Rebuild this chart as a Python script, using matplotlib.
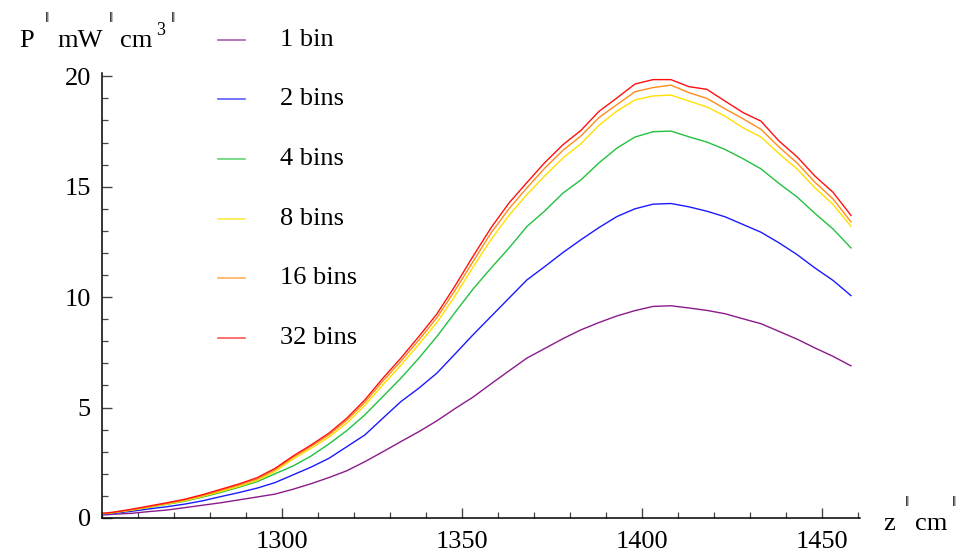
import matplotlib
matplotlib.use("Agg")
import matplotlib.pyplot as plt
from matplotlib.lines import Line2D
from matplotlib.ticker import MultipleLocator

# position along the device (cm)
z = [1250, 1253, 1258, 1263, 1268, 1273, 1278, 1283, 1288, 1293,
     1298, 1303, 1308, 1313, 1318, 1323, 1328, 1333, 1338, 1343,
     1348, 1353, 1358, 1363, 1368, 1373, 1378, 1383, 1388, 1393,
     1398, 1403, 1408, 1413, 1418, 1423, 1428, 1433, 1438, 1443,
     1448, 1453, 1458]

# power density (mW/cm^3) for each binning
p_1bin = [0.13, 0.17, 0.21, 0.29, 0.36, 0.47, 0.58, 0.69, 0.82, 0.95,
          1.08, 1.30, 1.55, 1.83, 2.14, 2.55, 3.00, 3.46, 3.91, 4.40,
          4.95, 5.47, 6.07, 6.66, 7.24, 7.68, 8.12, 8.52, 8.85, 9.15,
          9.39, 9.58, 9.61, 9.51, 9.40, 9.25, 9.02, 8.80, 8.45, 8.10,
          7.70, 7.32, 6.89]
p_2bins = [0.16, 0.21, 0.30, 0.41, 0.51, 0.63, 0.78, 0.97, 1.15, 1.35,
           1.60, 1.95, 2.30, 2.70, 3.23, 3.76, 4.52, 5.27, 5.88, 6.56,
           7.42, 8.29, 9.12, 9.95, 10.78, 11.39, 12.02, 12.60, 13.15, 13.65,
           14.00, 14.21, 14.24, 14.09, 13.89, 13.64, 13.29, 12.94, 12.46, 11.93,
           11.32, 10.76, 10.07]
p_4bins = [0.18, 0.24, 0.35, 0.48, 0.62, 0.76, 0.95, 1.16, 1.39, 1.64,
           2.00, 2.35, 2.80, 3.35, 3.96, 4.67, 5.50, 6.33, 7.24, 8.22,
           9.30, 10.36, 11.31, 12.22, 13.20, 13.91, 14.71, 15.31, 16.08, 16.75,
           17.25, 17.49, 17.52, 17.26, 17.02, 16.69, 16.27, 15.81, 15.15, 14.54,
           13.79, 13.09, 12.23]
p_8bins = [0.19, 0.24, 0.35, 0.49, 0.63, 0.78, 0.98, 1.20, 1.43, 1.70,
           2.10, 2.66, 3.15, 3.66, 4.30, 5.10, 6.03, 6.92, 7.87, 8.85,
           10.05, 11.35, 12.60, 13.70, 14.65, 15.50, 16.30, 16.95, 17.78, 18.43,
           18.93, 19.11, 19.15, 18.88, 18.61, 18.20, 17.67, 17.25, 16.50, 15.81,
           14.95, 14.20, 13.21]
p_16bins = [0.20, 0.25, 0.37, 0.51, 0.66, 0.82, 1.02, 1.25, 1.49, 1.76,
            2.18, 2.74, 3.24, 3.76, 4.43, 5.24, 6.20, 7.10, 8.06, 9.07,
            10.30, 11.60, 12.90, 14.00, 14.95, 15.85, 16.65, 17.30, 18.13, 18.72,
            19.30, 19.49, 19.60, 19.26, 19.00, 18.53, 18.08, 17.60, 16.80, 16.08,
            15.20, 14.45, 13.41]
p_32bins = [0.21, 0.26, 0.39, 0.54, 0.69, 0.85, 1.06, 1.30, 1.54, 1.82,
            2.24, 2.80, 3.30, 3.84, 4.52, 5.35, 6.33, 7.24, 8.22, 9.24,
            10.50, 11.84, 13.13, 14.26, 15.19, 16.10, 16.90, 17.55, 18.41, 19.02,
            19.65, 19.85, 19.85, 19.53, 19.41, 18.88, 18.36, 17.97, 17.07, 16.36,
            15.48, 14.75, 13.70]

labels = ["1 bin", "2 bins", "4 bins", "8 bins", "16 bins", "32 bins"]
series = [p_1bin, p_2bins, p_4bins, p_8bins, p_16bins, p_32bins]
colors = ["#8b1a8b", "#1a1aff", "#22c040", "#ffe000", "#ff8c1a", "#ff1010"]

x_ticks = [1300, 1350, 1400, 1450]
y_ticks = [0, 5, 10, 15, 20]

W, H = 969, 560
serif = ["Liberation Serif", "DejaVu Serif"]
fs = 19

fig = plt.figure(figsize=(W / 100, H / 100), dpi=100)
ax = fig.add_axes([102 / W, (H - 518) / H, (860 - 102) / W, (518 - 73) / H])

for ys, c in zip(series, colors):
    ax.plot(z, ys, color=c, lw=1.0, solid_joinstyle="miter")

ax.set_xlim(1250, 1460.5)
ax.set_ylim(0, 20.15)
ax.set_xticks(x_ticks)
ax.set_yticks(y_ticks)
ax.xaxis.set_minor_locator(MultipleLocator(10))
ax.yaxis.set_minor_locator(MultipleLocator(1))

for s in ["top", "right"]:
    ax.spines[s].set_visible(False)
for s in ["left", "bottom"]:
    ax.spines[s].set_linewidth(1.1)
    ax.spines[s].set_color("black")

ax.tick_params(which="major", direction="in", length=7.5, width=1.0,
               color="#444444", labelsize=fs)
ax.tick_params(axis="x", which="major", pad=9)
ax.tick_params(axis="y", which="major", pad=8)
ax.tick_params(which="minor", direction="in", length=4.5, width=0.9,
               color="#444444")
for lab in ax.get_xticklabels() + ax.get_yticklabels():
    lab.set_family(serif)

# legend drawn in figure pixel coordinates
rows_y = [40, 99, 159, 219, 278, 338]
for y, lab, c in zip(rows_y, labels, colors):
    fy = 1 - y / H
    fig.add_artist(Line2D([218 / W, 245 / W], [fy, fy], color=c, lw=1.2,
                          transform=fig.transFigure, alpha=0.7))
    fig.text(280 / W, fy, lab, family=serif, fontsize=fs, va="center",
             ha="left")


def ptext(x, y, s, size=fs, **kw):
    fig.text(x / W, 1 - y / H, s, family=serif, fontsize=size,
             va="baseline", ha="left", **kw)


# y-axis label: P ‖ mW ‖ cm^3 ‖
ptext(19, 47, "P")
ptext(45, 22, "‖", size=11)
ptext(57, 47, "mW")
ptext(109, 22, "‖", size=11)
ptext(120, 47, "cm")
ptext(156, 35, "3", size=13)
ptext(171, 22, "‖", size=11)

# x-axis label: z ‖ cm ‖
ptext(883, 530, "z")
ptext(905, 506, "‖", size=11)
ptext(915, 530, "cm")
ptext(952, 506, "‖", size=11)

fig.savefig("out.png", dpi=100)
